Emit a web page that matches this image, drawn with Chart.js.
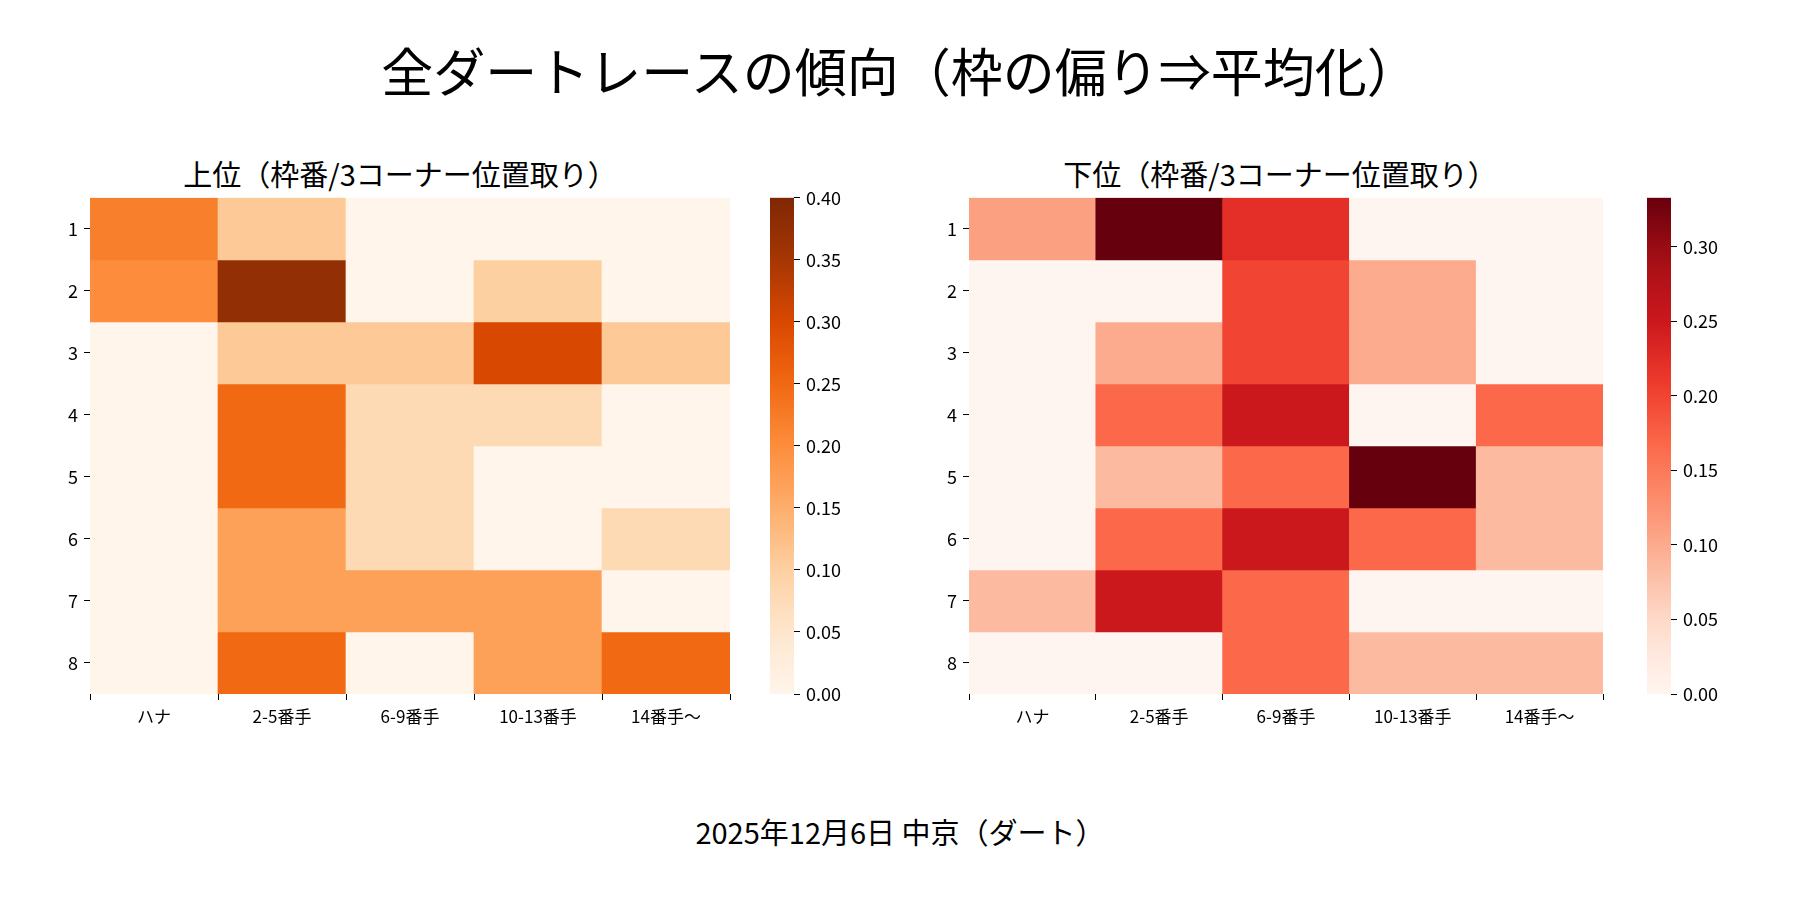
<!DOCTYPE html><html><head><meta charset="utf-8">
<script src="https://cdn.jsdelivr.net/npm/chart.js@4"></script>
<style>
body{margin:0;width:1800px;height:900px;background:#fff;font-family:"Noto Sans CJK JP",sans-serif;position:relative;overflow:hidden}
.t{position:absolute;text-align:center;color:#000;white-space:nowrap}
canvas{position:absolute}
</style></head><body>
<div class="t" style="left:0;width:1800px;top:32px;font-size:52px">全ダートレースの傾向（枠の偏り⇒平均化）</div>
<div class="t" style="left:80px;width:640px;top:152px;font-size:29px">上位（枠番/3コーナー位置取り）</div>
<div class="t" style="left:960px;width:640px;top:152px;font-size:29px">下位（枠番/3コーナー位置取り）</div>
<div class="t" style="left:0;width:1800px;top:810px;font-size:29px">2025年12月6日 中京（ダート）</div>
<canvas id="h1" style="left:60px;top:181px"></canvas>
<canvas id="c1" style="left:758px;top:181px"></canvas>
<canvas id="h2" style="left:939px;top:181px"></canvas>
<canvas id="c2" style="left:1635px;top:181px"></canvas>
<script>
const columns=['ハナ','2-5番手','6-9番手','10-13番手','14番手〜'];
const rows=['1','2','3','4','5','6','7','8'];
const upper=[
[0.22,0.11,0,0,0],
[0.20,0.375,0,0.10,0],
[0,0.11,0.11,0.30,0.11],
[0,0.25,0.08,0.08,0],
[0,0.25,0.08,0,0],
[0,0.17,0.08,0,0.08],
[0,0.17,0.17,0.17,0],
[0,0.25,0,0.17,0.25]];
const lower=[
[0.111,0.333,0.222,0,0],
[0,0,0.2,0.1,0],
[0,0.1,0.2,0.1,0],
[0,0.167,0.25,0,0.167],
[0,0.083,0.167,0.333,0.083],
[0,0.167,0.25,0.167,0.083],
[0.083,0.25,0.167,0,0],
[0,0,0.167,0.083,0.083]];
const upperTicks=[0,0.05,0.10,0.15,0.20,0.25,0.30,0.35,0.40];
const lowerTicks=[0,0.05,0.10,0.15,0.20,0.25,0.30];
const ORANGES=['#fff5eb','#fee6ce','#fdd0a2','#fdae6b','#fd8d3c','#f16913','#d94801','#a63603','#7f2704'];
const REDS=['#fff5f0','#fee0d2','#fcbba1','#fc9272','#fb6a4a','#ef3b2c','#cb181d','#a50f15','#67000d'];
function hex(h){return [1,3,5].map(i=>parseInt(h.substr(i,2),16));}
function cmap(stops,t){t=Math.max(0,Math.min(1,t));const p=t*(stops.length-1);const i=Math.min(Math.floor(p),stops.length-2);const f=p-i;const a=hex(stops[i]),b=hex(stops[i+1]);return 'rgb('+a.map((v,k)=>Math.round(v+(b[k]-v)*f)).join(',')+')';}
Chart.defaults.font.family='"Noto Sans CJK JP",sans-serif';
Chart.defaults.color='#000';
Chart.defaults.animation=false;
function sz(id,w,h){const c=document.getElementById(id);c.width=w;c.height=h;c.style.width=w+'px';c.style.height=h+'px';return c;}
const XH=52;
function heat(id,w,data,stops,vmax){
  const c=sz(id,w,565);
  new Chart(c,{type:'bar',data:{labels:columns,datasets:data.map((r,i)=>({data:r.map(()=>[i,i+1]),backgroundColor:r.map(v=>cmap(stops,v/vmax)),borderWidth:0,categoryPercentage:1,barPercentage:1,grouped:false}))},
  options:{responsive:false,plugins:{legend:{display:false},tooltip:{enabled:false}},layout:{padding:{left:0,right:10,top:8,bottom:0}},
  scales:{x:{grid:{display:true,drawOnChartArea:false,tickLength:6,color:'#000'},border:{display:false},ticks:{font:{size:17},padding:6},afterFit:s=>{s.height=XH;}},
  y:{min:0,max:8,reverse:true,grid:{display:true,drawOnChartArea:false,tickLength:6,color:'#000'},border:{display:false},
     afterBuildTicks:s=>{s.ticks=rows.map((r,i)=>({value:i+0.5}));},ticks:{font:{size:18},callback:(v)=>String(Math.round(v+0.5)),padding:6},afterFit:s=>{s.width=30;}}}}});
}
function cbar(id,stops,vmax,ticks){
  const c=sz(id,140,565);
  new Chart(c,{type:'bar',data:{labels:[''],datasets:[{data:[0],backgroundColor:'transparent'}]},
  plugins:[{id:'g',beforeDatasetsDraw(ch){const a=ch.chartArea,x=ch.ctx;const g=x.createLinearGradient(0,a.bottom,0,a.top);for(let i=0;i<=20;i++)g.addColorStop(i/20,cmap(stops,i/20));x.fillStyle=g;x.fillRect(a.left,a.top,a.right-a.left,a.bottom-a.top);}}],
  options:{responsive:false,plugins:{legend:{display:false},tooltip:{enabled:false}},layout:{padding:{left:12,right:10,top:8,bottom:0}},
  scales:{x:{display:true,grid:{display:false},border:{display:false},ticks:{display:false},afterFit:s=>{s.height=XH;}},
  y:{position:'right',min:0,max:vmax,grid:{display:true,drawOnChartArea:false,tickLength:6,color:'#000'},border:{display:false},
   afterBuildTicks:s=>{s.ticks=ticks.map(v=>({value:v}));},ticks:{font:{size:18},padding:6,callback:v=>v.toFixed(2)},afterFit:s=>{s.width=94;}}}}});
}
heat('h1',680,upper,ORANGES,0.40);
cbar('c1',ORANGES,0.40,upperTicks);
heat('h2',674,lower,REDS,0.333);
cbar('c2',REDS,0.333,lowerTicks);
</script></body></html>
